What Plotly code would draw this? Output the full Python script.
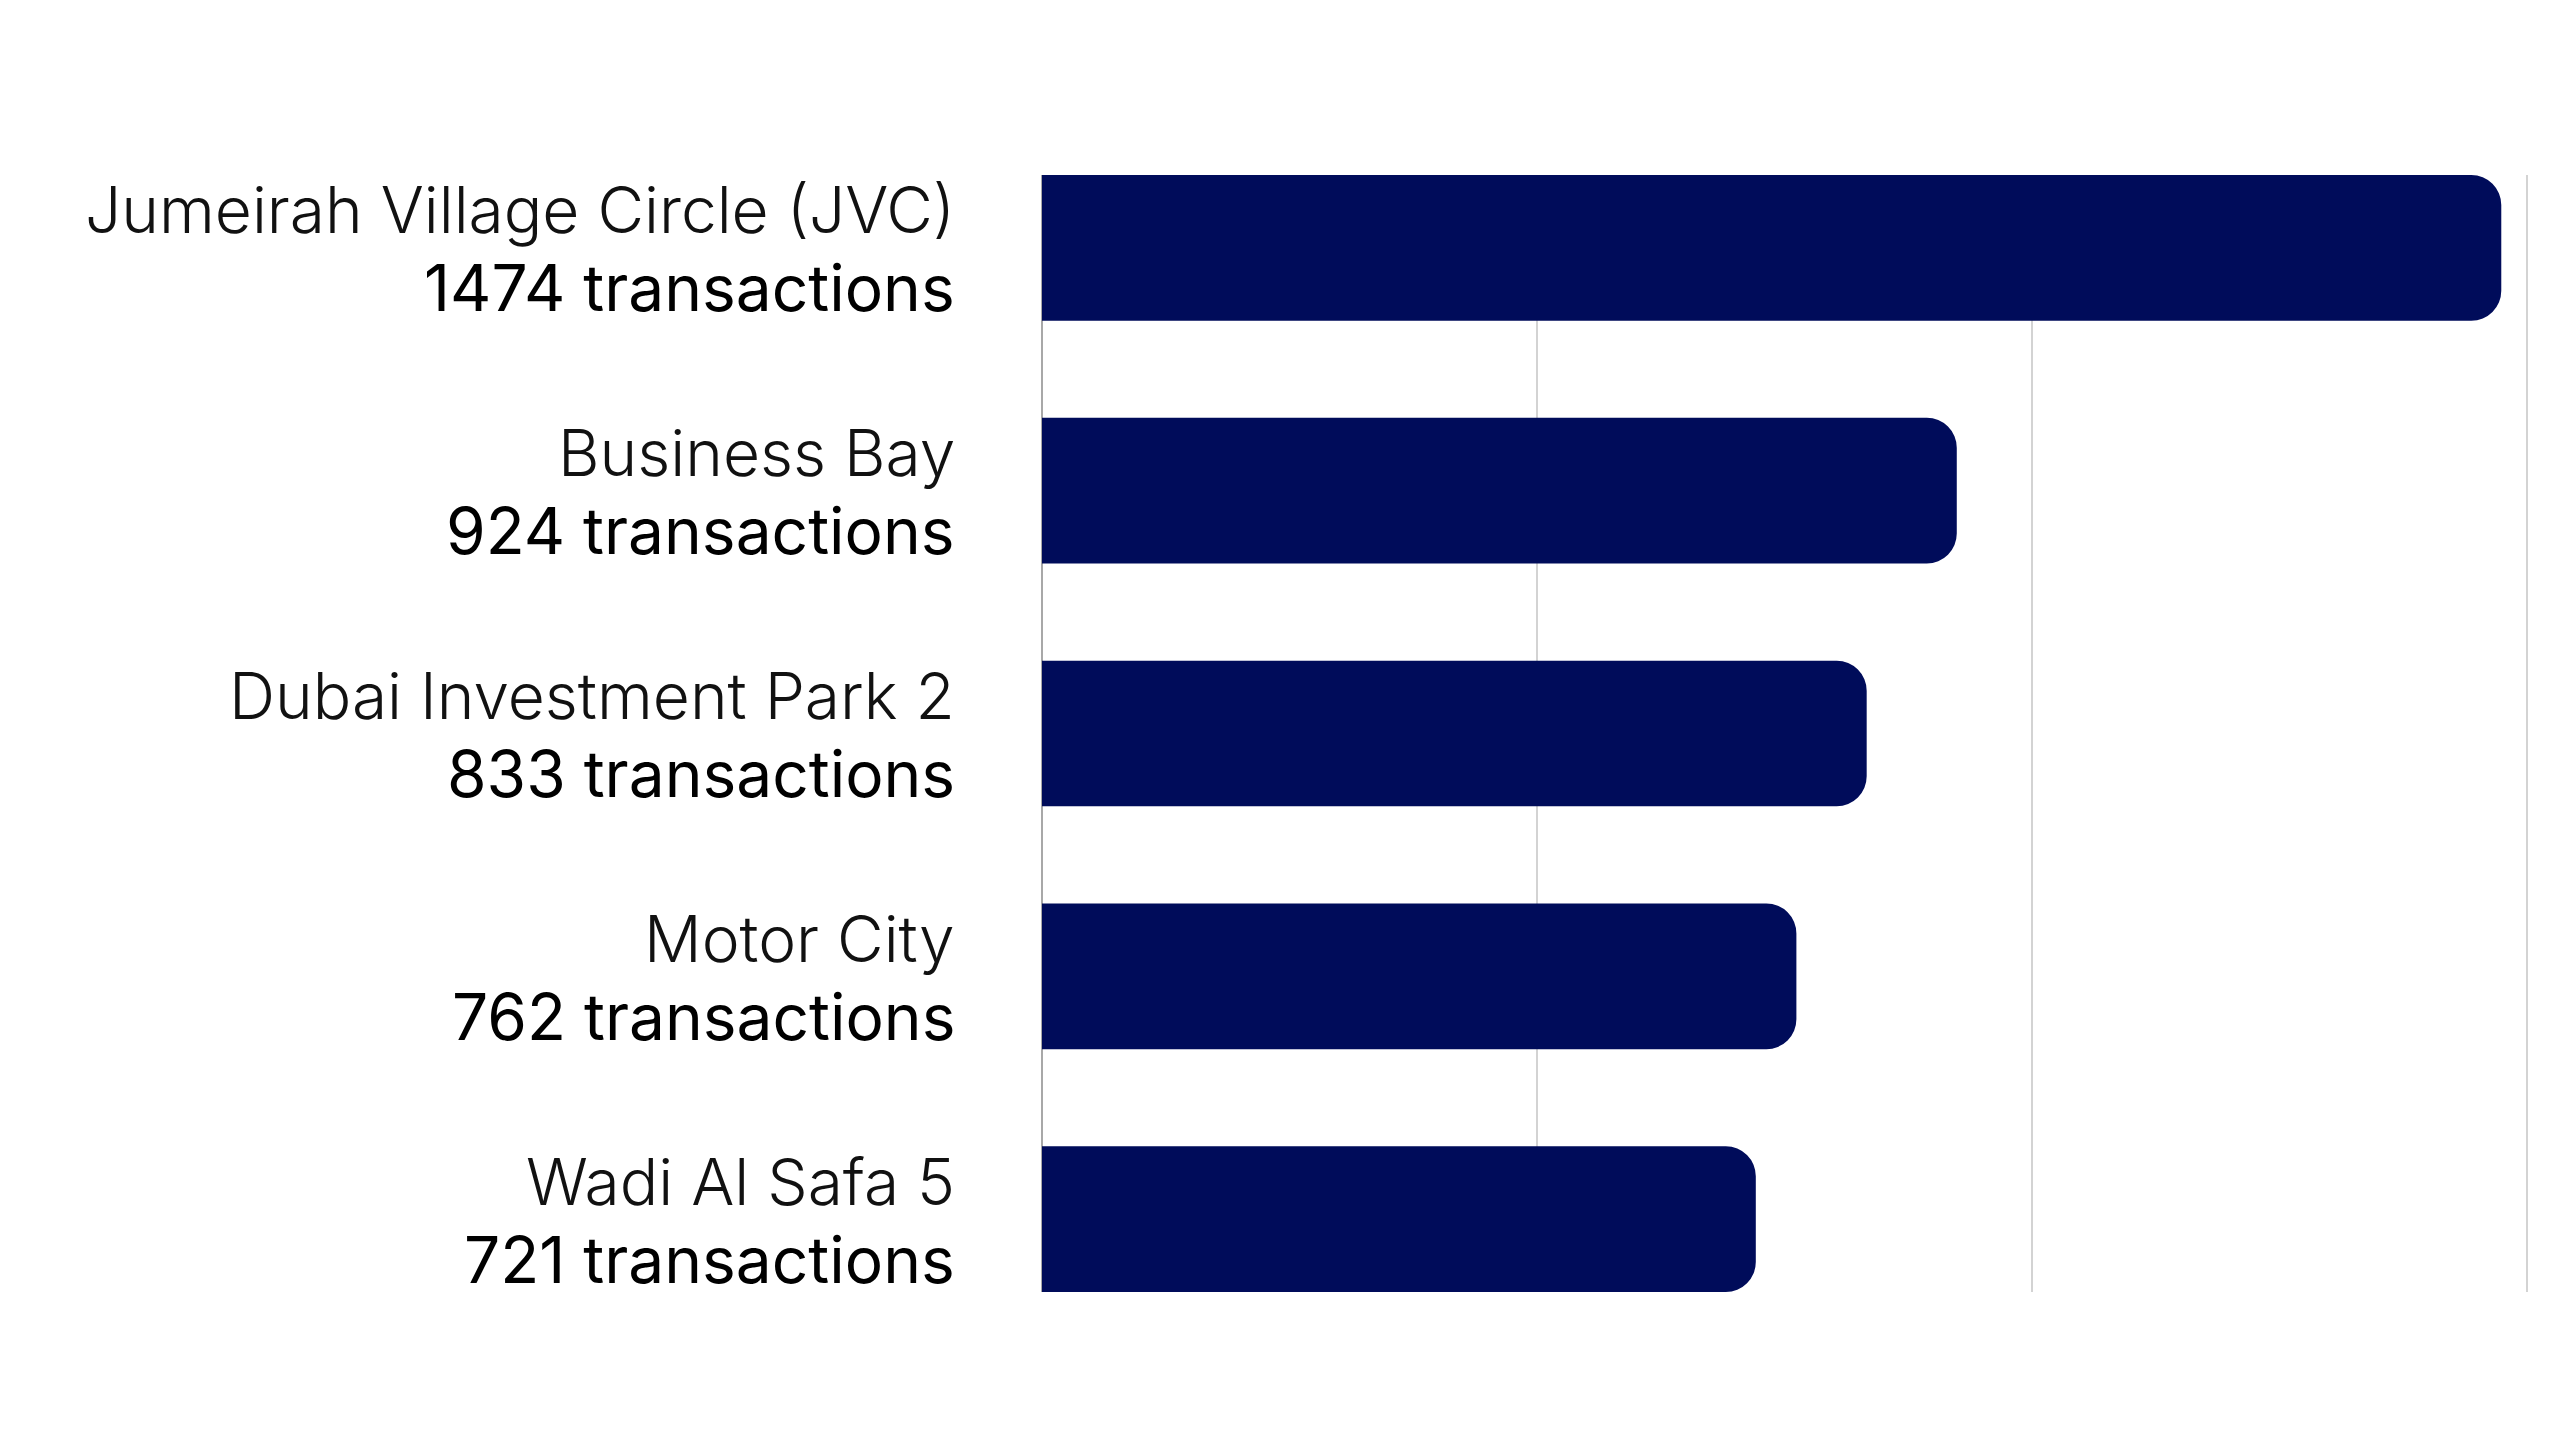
import plotly.graph_objects as go

# Data
areas = ["Jumeirah Village Circle (JVC)", "Business Bay", "Dubai Investment Park 2",
         "Motor City", "Wadi Al Safa 5"]
transactions = [1474, 924, 833, 762, 721]

BAR_COLOR = "#000c5a"
FONT = "Inter"

fig = go.Figure()
fig.add_trace(go.Bar(
    x=transactions,
    y=areas,
    orientation="h",
    width=0.6,
    marker=dict(color=BAR_COLOR, cornerradius=30, line=dict(width=0)),
    hoverinfo="skip",
))

# two-line labels left of the axis: light name, regular count
annotations = []
for name, val in zip(areas, transactions):
    annotations.append(dict(
        x=0, xref="paper", y=name, yref="y",
        text=name, showarrow=False,
        xanchor="right", yanchor="middle", xshift=-85, yshift=38,
        font=dict(family=FONT, size=64, color="#111111", weight=300),
    ))
    annotations.append(dict(
        x=0, xref="paper", y=name, yref="y",
        text=f"{val} transactions", showarrow=False,
        xanchor="right", yanchor="middle", xshift=-85, yshift=-40,
        font=dict(family=FONT, size=64, color="#000000", weight=400),
    ))

fig.update_layout(
    width=2560, height=1440,
    margin=dict(l=1034, r=39, t=167, b=156),
    paper_bgcolor="white", plot_bgcolor="white",
    showlegend=False,
    annotations=annotations,
)
fig.update_xaxes(
    range=[0, 1502], tickvals=[500, 1000, 1500], showticklabels=False,
    showgrid=True, gridcolor="#d3d3d3", gridwidth=2,
    zeroline=True, zerolinecolor="#a8a8a8", zerolinewidth=2,
    showline=False, fixedrange=True,
)
fig.update_yaxes(
    type="category", categoryorder="array", categoryarray=areas,
    range=[4.3, -0.3], showticklabels=False, showgrid=False,
    zeroline=False, showline=False, fixedrange=True,
)

fig.write_html("out.html")
